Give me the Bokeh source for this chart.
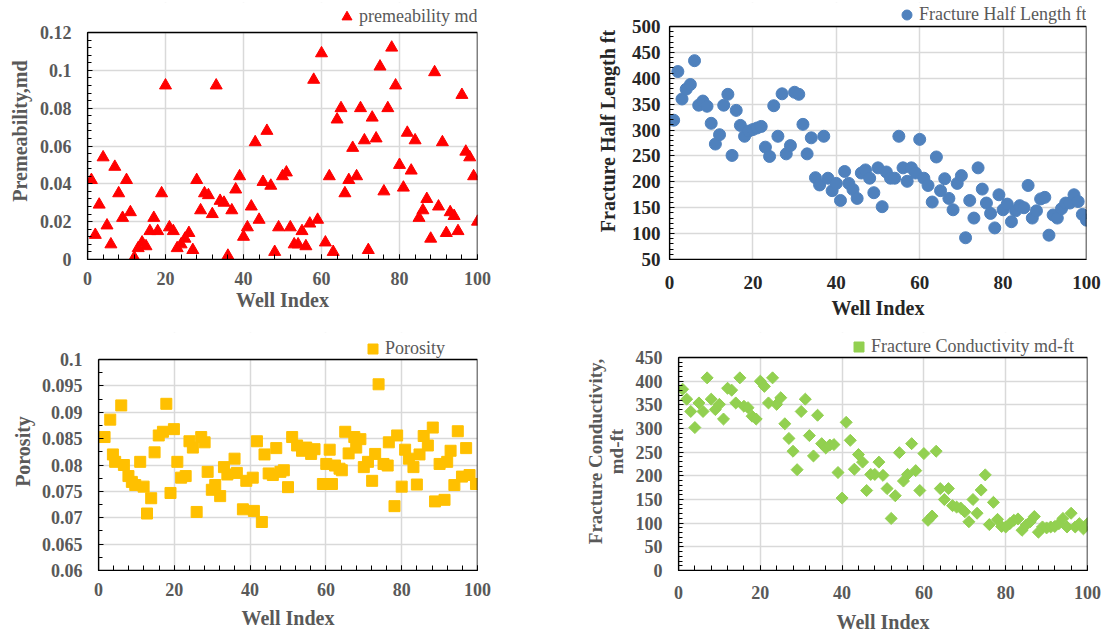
import numpy as np
from bokeh.plotting import figure
from bokeh.layouts import column, row
from bokeh.models import FixedTicker, Legend, LegendItem, Range1d, BoxAnnotation
from bokeh.embed import file_html
from bokeh.resources import INLINE

# ---------------- data ----------------
wells = list(range(1, 101))

permeability = [0.042, 0.013, 0.029, 0.054, 0.018, 0.008, 0.049, 0.035, 0.022, 0.042,
                0.025, 0.001, 0.006, 0.009, 0.007, 0.015, 0.022, 0.015, 0.035, 0.092,
                0.017, 0.015, 0.006, 0.008, 0.011, 0.014, 0.005, 0.042, 0.026, 0.035,
                0.034, 0.024, 0.092, 0.031, 0.030, 0.002, 0.026, 0.037, 0.044, 0.012,
                0.017, 0.028, 0.062, 0.021, 0.041, 0.068, 0.039, 0.004, 0.017, 0.044,
                0.046, 0.017, 0.008, 0.008, 0.015, 0.007, 0.019, 0.095, 0.021, 0.109,
                0.009, 0.044, 0.004, 0.074, 0.080, 0.035, 0.042, 0.059, 0.044, 0.080,
                0.063, 0.005, 0.075, 0.064, 0.102, 0.036, 0.080, 0.112, 0.092, 0.050,
                0.038, 0.067, 0.047, 0.063, 0.022, 0.026, 0.032, 0.011, 0.099, 0.028,
                0.062, 0.014, 0.025, 0.023, 0.015, 0.087, 0.057, 0.054, 0.044, 0.020]

half_length = [319, 413, 360, 379, 388, 434, 348, 356, 346, 313,
               273, 291, 348, 369, 251, 338, 309, 288, 298, 301,
               304, 307, 267, 249, 347, 288, 370, 254, 270, 373,
               369, 311, 254, 285, 208, 194, 288, 207, 183, 197,
               164, 220, 197, 185, 168, 217, 223, 207, 179, 227,
               152, 219, 207, 207, 288, 227, 201, 227, 217, 282,
               207, 193, 161, 248, 183, 206, 168, 146, 197, 212,
               92, 164, 130, 227, 186, 159, 139, 111, 175, 146,
               157, 123, 144, 154, 150, 193, 130, 144, 167, 170,
               97, 136, 130, 148, 159, 159, 175, 162, 137, 126]

poro_wells = [1.6, 3.1, 3.8, 4.4, 6.0, 6.7, 7.9, 8.8, 9.7, 11,
              11.9, 12.8, 13.9, 14.8, 15.9, 17, 17.9, 19, 19.9, 20.8,
              21.8, 23, 24, 24.9, 25.9, 27.1, 28, 28.8, 29.9, 30.8,
              32.1, 33.1, 34, 35.9, 36.5, 38.1, 39, 40.7, 41, 41.8,
              43.1, 43.8, 44.9, 46, 46.9, 48, 48.9, 50, 51.1, 52.4,
              53.7, 54.8, 56.1, 57, 59.2, 60.1, 61, 61.6, 62.4, 63.6,
              64.2, 65.1, 66, 67.5, 68, 69.1, 70, 71.1, 72.2, 73,
              73.9, 75.2, 76.3, 76.6, 78.1, 78.8, 80, 80.9, 81.9, 83.1,
              84, 84.7, 85.8, 86.9, 88.2, 88.8, 90, 91.3, 92, 92.9,
              93.9, 94.8, 95.9, 97, 97.9, 99.6]
porosity = [0.0853, 0.0886, 0.0820, 0.0806, 0.0913, 0.0800, 0.0779, 0.0768, 0.0762, 0.0806,
            0.0759, 0.0708, 0.0737, 0.0824, 0.0856, 0.0863, 0.0916, 0.0747, 0.0868, 0.0806,
            0.0776, 0.0779, 0.0845, 0.0833, 0.0711, 0.0853, 0.0843, 0.0787, 0.0753, 0.0762,
            0.0741, 0.0796, 0.0782, 0.0812, 0.0785, 0.0716, 0.0770, 0.0776, 0.0713, 0.0845,
            0.0692, 0.0820, 0.0784, 0.0781, 0.0832, 0.0787, 0.0790, 0.0758, 0.0853, 0.0837,
            0.0827, 0.0833, 0.0821, 0.0830, 0.0764, 0.0802, 0.0829, 0.0764, 0.0799, 0.0793,
            0.0790, 0.0863, 0.0822, 0.0853, 0.0833, 0.0849, 0.0796, 0.0806, 0.0770, 0.0821,
            0.0953, 0.0802, 0.0799, 0.0843, 0.0722, 0.0856, 0.0759, 0.0829, 0.0812, 0.0796,
            0.0763, 0.0820, 0.0855, 0.0837, 0.0871, 0.0731, 0.0802, 0.0734, 0.0806, 0.0827,
            0.0762, 0.0864, 0.0778, 0.0832, 0.0781, 0.0764]

conductivity = [383, 362, 336, 302, 354, 336, 407, 362, 340, 351,
                320, 385, 381, 354, 407, 347, 344, 326, 320, 400,
                389, 354, 407, 351, 365, 310, 279, 252, 213, 336,
                362, 285, 242, 328, 268, 259, 265, 266, 207, 153,
                313, 275, 214, 245, 229, 169, 203, 203, 229, 201,
                173, 110, 158, 249, 189, 203, 268, 211, 169, 247,
                106, 115, 252, 173, 150, 173, 137, 134, 132, 124,
                103, 150, 121, 170, 202, 97, 144, 108, 93, 92,
                99, 106, 109, 85, 96, 103, 114, 81, 92, 90,
                92, 93, 99, 110, 92, 121, 92, 99, 88, 99]

x_ticks = [0, 20, 40, 60, 80, 100]
x_labels = ["0", "20", "40", "60", "80", "100"]
y1_ticks = [0, 0.02, 0.04, 0.06, 0.08, 0.1, 0.12]
y1_labels = ["0", "0.02", "0.04", "0.06", "0.08", "0.1", "0.12"]
y2_ticks = [50, 100, 150, 200, 250, 300, 350, 400, 450, 500]
y2_labels = ["50", "100", "150", "200", "250", "300", "350", "400", "450", "500"]
y3_ticks = [0.06, 0.065, 0.07, 0.075, 0.08, 0.085, 0.09, 0.095, 0.1]
y3_labels = ["0.06", "0.065", "0.07", "0.075", "0.08", "0.085", "0.09", "0.095", "0.1"]
y4_ticks = [0, 50, 100, 150, 200, 250, 300, 350, 400, 450]
y4_labels = ["0", "50", "100", "150", "200", "250", "300", "350", "400", "450"]

FONT = "Liberation Serif"
GREY = "#595959"
DARK = "#262626"
BORDER_TOP = 2


def make_fig(w, h, left, right, bottom, data_top, xt, xl, yt, yl, x_minor, y_minor,
             xtitle, ytitle, color, tick_std=(14, 17), title_std=(2, 8), xtick_in=5,
             tick_size="18px", title_size="20px", ytitle_size=None):
    # the frame reaches up to the canvas top so that the legend (drawn inside the
    # frame) is visible; the visible plot box ends at the last y tick (at data_top px)
    y0, y1 = yt[0], yt[-1]
    frame_bottom = h - bottom
    y_end = y1 + (data_top - BORDER_TOP) * (y1 - y0) / (frame_bottom - data_top)
    p = figure(width=w, height=h, x_range=Range1d(0, 100), y_range=Range1d(y0, y_end),
               output_backend="svg", toolbar_location=None, title=None,
               min_border_left=left, min_border_right=right,
               min_border_top=BORDER_TOP, min_border_bottom=bottom)
    p.background_fill_color = "white"
    p.border_fill_color = "white"
    p.outline_line_color = None
    p.xaxis.ticker = FixedTicker(ticks=xt, minor_ticks=x_minor)
    p.yaxis.ticker = FixedTicker(ticks=yt, minor_ticks=y_minor)
    p.xaxis.major_label_overrides = dict(zip(xt, xl))
    p.yaxis.major_label_overrides = dict(zip(yt, yl))
    p.yaxis.bounds = (y0, y1)
    for ax in (p.xaxis[0], p.yaxis[0]):
        ax.axis_line_color = "black"
        ax.axis_line_width = 1.2
        ax.major_tick_line_color = "black"
        ax.minor_tick_line_color = "black"
        ax.major_tick_out = 0
        ax.minor_tick_out = 0
        ax.major_tick_in = 5
        ax.minor_tick_in = 4
        ax.major_label_text_font = FONT
        ax.major_label_text_font_style = "bold"
        ax.major_label_text_font_size = tick_size
        ax.major_label_text_color = color
        ax.axis_label_text_font = FONT
        ax.axis_label_text_font_style = "bold"
        ax.axis_label_text_font_size = title_size
        ax.axis_label_text_color = color
    if ytitle_size:
        p.yaxis.axis_label_text_font_size = ytitle_size
        p.yaxis.axis_label_text_line_height = 1.0
    p.xaxis.major_tick_in = xtick_in
    p.xaxis.minor_tick_in = xtick_in
    p.xaxis.major_label_standoff = tick_std[0]
    p.yaxis.major_label_standoff = tick_std[1]
    p.xaxis.axis_label_standoff = title_std[0]
    p.yaxis.axis_label_standoff = title_std[1]
    p.xaxis.axis_label = xtitle
    p.yaxis.axis_label = ytitle
    p.xgrid.ticker = FixedTicker(ticks=xt)
    p.ygrid.ticker = FixedTicker(ticks=yt)
    p.grid.grid_line_color = "#D9D9D9"
    p.grid.grid_line_width = 1.5
    # white mask above the plot box (hides grid lines there)
    p.add_layout(BoxAnnotation(bottom=y1, fill_color="white", fill_alpha=1.0,
                               line_alpha=0, level="underlay"))
    # plot box outline
    p.add_layout(BoxAnnotation(left=0, right=100, bottom=y0, top=y1, fill_alpha=0,
                               line_color="black", line_width=1.5, line_alpha=1.0))
    return p, frame_bottom


def add_legend(p, r, text, loc):
    lg = Legend(items=[LegendItem(label=text, renderers=[r])], location=loc,
                padding=0, margin=0, spacing=0, glyph_width=25, glyph_height=25,
                label_standoff=0, label_height=25,
                background_fill_alpha=0, border_line_alpha=0,
                label_text_font=FONT, label_text_font_size="18px",
                label_text_color=GREY)
    p.add_layout(lg)


x4_minor = [v for v in range(0, 101, 4)]

# Panel 1: permeability
p1, fb1 = make_fig(590, 330, 87, 113, 71, 32, x_ticks, x_labels, y1_ticks, y1_labels,
                   x4_minor, [round(i * 0.004, 3) for i in range(31)],
                   "Well Index", "Premeability,md", GREY, tick_std=(12, 16), title_std=(1, 6))
r1 = p1.scatter(wells, permeability, marker="triangle", size=12, color="#FF0000")
add_legend(p1, r1, "premeability md", (247, fb1 - 29))

# Panel 2: fracture half length
p2, fb2 = make_fig(521, 330, 79, 25, 71, 26, x_ticks, x_labels, y2_ticks, y2_labels,
                   [], list(range(50, 501, 10)),
                   "Well Index", "Fracture Half Length ft", DARK, tick_std=(16, 9), title_std=(5, 10),
                   xtick_in=0, tick_size="19px", title_size="20px")
r2 = p2.scatter(wells, half_length, marker="circle", size=12, color="#4F81BD")
add_legend(p2, r2, "Fracture Half Length ft", (225, fb2 - 27))

# Panel 3: porosity
p3, fb3 = make_fig(580, 308, 98, 103, 68, 29, x_ticks, x_labels, y3_ticks, y3_labels,
                   x4_minor, [0.0625, 0.0675, 0.0725, 0.0775, 0.0825, 0.0875, 0.0925, 0.0975],
                   "Well Index", "Porosity", GREY, tick_std=(12, 16), title_std=(8, 5))
r3 = p3.scatter(poro_wells, porosity, marker="square", size=11, color="#FFC000")
add_legend(p3, r3, "Porosity", (262, fb3 - 31))

# Panel 4: fracture conductivity
p4, fb4 = make_fig(531, 308, 98, 24, 68, 27, x_ticks, x_labels, y4_ticks, y4_labels,
                   x4_minor, list(range(0, 451, 10)),
                   "Well Index", "Fracture Conductivity,\nmd-ft", GREY, tick_std=(15, 16), title_std=(9, 6),
                   ytitle_size="19px")
r4 = p4.scatter(wells, conductivity, marker="square", angle=np.pi / 4, size=8.5, color="#92D050")
add_legend(p4, r4, "Fracture Conductivity md-ft", (168, fb4 - 29))

layout = column(row(p1, p2), row(p3, p4))
open("out.html", "w").write(file_html(layout, INLINE))
